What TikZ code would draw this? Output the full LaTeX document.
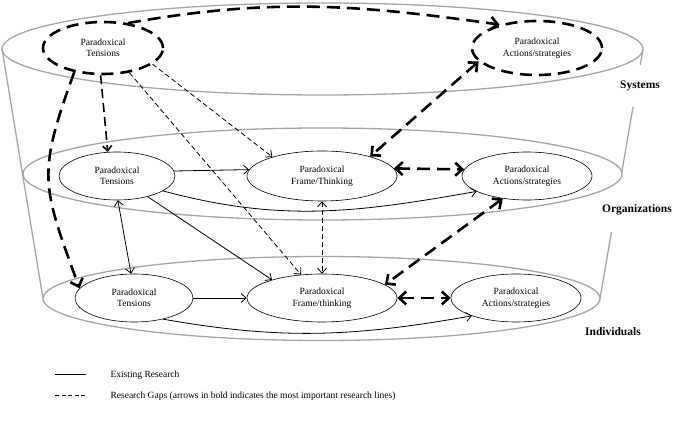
\documentclass[tikz,border=0pt]{standalone}
\usepackage{fontspec}
\setmainfont{Liberation Serif}
\usetikzlibrary{shapes.geometric,arrows.meta,calc}

\tikzset{
    ttip/.tip={Straight Barb[length=5pt,width=9pt]},
    btip/.tip={Straight Barb[length=7pt,width=13pt]}
}

\begin{document}
\begin{tikzpicture}[x=1pt,y=1pt,
    level/.style={draw=black!35,line width=1.3pt},
    idea/.style={ellipse,draw,line width=0.6pt,fill=white,inner sep=0pt,align=center,
        font=\fontsize{9.5}{11.5}\selectfont},
    bigidea/.style={idea,line width=2.6pt,dash pattern=on 12pt off 7pt},
    found/.style={line width=0.8pt},
    gapline/.style={line width=0.8pt,dash pattern=on 5pt off 3pt},
    midgap/.style={line width=1.6pt,dash pattern=on 9pt off 5pt},
    boldgap/.style={line width=2.6pt,dash pattern=on 13pt off 7pt},
    levelname/.style={font=\fontsize{11.5}{13}\selectfont\bfseries},
    legend/.style={anchor=west,font=\fontsize{9.5}{11.5}\selectfont}]
    \useasboundingbox (0,0) rectangle (685,436);

    % the three levels (cylinder)
    \coordinate (sysL) at (2,387);
    \coordinate (sysR) at (643,387);
    \coordinate (indL) at (43,137.5);
    \coordinate (indR) at (600,137.5);
    \draw[level] (sysL) -- (indL);
    \draw[level] (sysR) -- ($(sysR)!0.064!(indR)$);
    \draw[level] ($(sysR)!0.232!(indR)$) -- ($(sysR)!0.493!(indR)$);
    \draw[level] ($(sysR)!0.733!(indR)$) -- (indR);
    \draw[level] (322.5,387) ellipse [x radius=320.5,y radius=46];
    \draw[level] (322.5,262) ellipse [x radius=299.5,y radius=46];
    \draw[level] (321.5,137.5) ellipse [x radius=278.5,y radius=42];

    \node[levelname] (sys) at (640,350) {Systems};
    \node[levelname] (org) at (637,226) {Organizations};
    \node[levelname] (ind) at (613,104) {Individuals};

    % systems level
    \node[bigidea,minimum width=120pt,minimum height=52pt] (st) at (103,388) {Paradoxical\\Tensions};
    \node[bigidea,minimum width=130pt,minimum height=54pt] (sa) at (537,388) {Paradoxical\\Actions/strategies};

    % organizations level
    \node[idea,minimum width=116pt,minimum height=48pt] (ot) at (117,260) {Paradoxical\\Tensions};
    \node[idea,minimum width=150pt,minimum height=50pt] (of) at (322,260) {Paradoxical\\Frame/Thinking};
    \node[idea,minimum width=130pt,minimum height=48pt] (oa) at (527,260) {Paradoxical\\Actions/strategies};

    % individuals level
    \node[idea,minimum width=118pt,minimum height=48pt] (it) at (134,138) {Paradoxical\\Tensions};
    \node[idea,minimum width=150pt,minimum height=48pt] (if) at (322,138) {Paradoxical\\Frame/thinking};
    \node[idea,minimum width=130pt,minimum height=48pt] (ia) at (516,138) {Paradoxical\\Actions/strategies};

    % existing research
    \draw[found,-ttip] (ot.5) -- (of.175);
    \draw[found,-ttip] (ot.-18) to[out=-15,in=190] (oa.197);
    \draw[found,ttip-ttip] (ot.272) -- (it.97);
    \draw[found,-ttip] (ot.-34) -- (if.160);
    \draw[found,-ttip] (it.east) -- (if.west);
    \draw[found,-ttip] (it.-36) to[out=-10,in=190] (ia.202);

    % research gaps
    \draw[gapline,-ttip] (st.-18) -- (of.159);
    \draw[gapline,-ttip] (st.-43) -- (if.132);
    \draw[gapline,ttip-ttip] (of.south) -- (if.north);
    \draw[midgap,-ttip] (st.265) -- (ot.111);

    % most important gaps
    \draw[boldgap,-btip] (st.45) to[out=10,in=172] (sa.148);
    \draw[boldgap,-btip] (st.220) to[out=250,in=110,looseness=1.3] (it.170);
    \draw[boldgap,btip-btip] (sa.193) -- (of.22);
    \draw[boldgap,btip-btip] (of.6) -- (oa.174);
    \draw[boldgap,btip-btip] (oa.223) -- (if.12);
    \draw[boldgap,btip-btip] (if.east) -- (ia.west);

    % legend
    \coordinate (solidA) at (55,62);
    \coordinate (solidB) at (86,62);
    \draw[found] (solidA) -- (solidB);
    \node[legend] (existing) at (107,61) {Existing Research};
    \coordinate (dashA) at (55,41);
    \coordinate (dashB) at (87,41);
    \draw[line width=0.8pt,dash pattern=on 4pt off 2.5pt] (dashA) -- (dashB);
    \node[legend] (gaps) at (107,40) {Research Gaps (arrows in bold indicates the most important research lines)};
\end{tikzpicture}
\end{document}
